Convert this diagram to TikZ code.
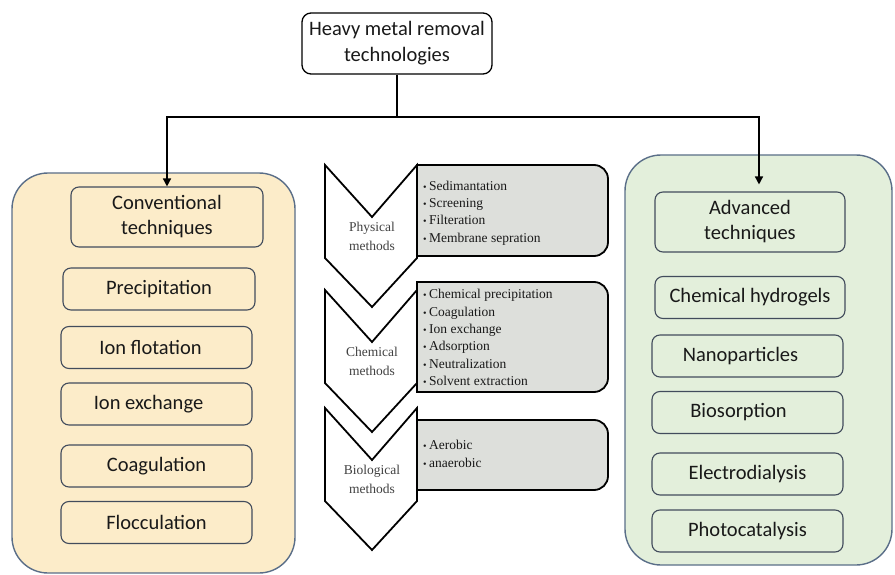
\documentclass[tikz,border=0pt]{standalone}
\usepackage{fontspec}
\setmainfont{Carlito}
\newfontfamily\timesfont{Liberation Serif}
\usepackage{xcolor}
\definecolor{ConvFill}{RGB}{252,236,201}
\definecolor{AdvFill}{RGB}{227,239,219}
\definecolor{PanelBorder}{RGB}{90,110,136}
\definecolor{BoxBorder}{RGB}{66,76,92}
\definecolor{ListFill}{RGB}{221,223,219}
\definecolor{TechText}{RGB}{25,25,25}
\definecolor{MethodText}{RGB}{65,65,65}
\usetikzlibrary{
  positioning,
  arrows.meta,
  calc
}
\newcommand{\bul}{\makebox[6pt][l]{\fontsize{10}{10}\selectfont\textbullet}}
\tikzset{
  % Root box
  rootbox/.style={
    draw=black,
    line width=1.3pt,
    fill=white,
    rounded corners=9pt,
    minimum width=190,
    minimum height=61,
    align=center,
    text=TechText,
    font=\fontsize{20.5}{26}\selectfont
  },
  % Large panels
  panel/.style={
    draw=PanelBorder,
    line width=1.4pt,
    rounded corners=36pt,
    inner sep=0pt
  },
  % Technique box
  techbox/.style={
    draw=BoxBorder,
    line width=1.1pt,
    rounded corners=8pt,
    minimum width=191,
    minimum height=42,
    align=center,
    text=TechText,
    font=\fontsize{20.5}{25}\selectfont
  },
  % Heading box inside a panel
  headbox/.style={techbox, minimum height=60},
  convbox/.style={techbox, fill=ConvFill},
  advbox/.style={techbox, fill=AdvFill},
  % Method chevron
  chevron/.style={
    draw=black,
    line width=1.8pt,
    fill=white
  },
  % Method list box
  listbox/.style={
    draw=black,
    line width=1.8pt,
    fill=ListFill
  },
  methodlabel/.style={
    align=center,
    text=MethodText,
    font=\timesfont\fontsize{13.5}{19}\selectfont
  },
  listtext/.style={
    align=left,
    inner sep=0pt,
    text=TechText,
    font=\timesfont\fontsize{13.5}{17.4}\selectfont
  },
  % Connectors
  connector/.style={
    draw=black,
    line width=1.5pt
  },
  arrowline/.style={
    connector,
    -{Triangle[length=8pt,width=8pt]}
  }
}

\begin{document}
\begin{tikzpicture}[x=1pt, y=-1pt]
  \useasboundingbox (0,0) rectangle (895,575);

  % panels
  \node[panel, fill=ConvFill, minimum width=283, minimum height=400] (convpanel) at (153.5,373) {};
  \node[panel, fill=AdvFill, minimum width=267, minimum height=410] (advpanel) at (758.5,360) {};

  % root and split
  \node[rootbox] (root) at (397,43.5) {Heavy metal removal\\technologies};
  \coordinate (split) at (397,117);

  % conventional techniques
  \node[convbox, headbox, minimum width=192] (conv) at (167,217) {Conventional\\techniques};
  \node[convbox, minimum width=192] (precip) at (159,289) {Precipitation};
  \node[convbox] (flot) at (156.5,347.5) {\hspace*{-12pt}Ion flotation};
  \node[convbox] (ionex) at (156.5,404) {\hspace*{-16pt}Ion exchange};
  \node[convbox] (coag) at (156.5,466) {Coagulation};
  \node[convbox] (floc) at (156.5,522.5) {Flocculation};

  % advanced techniques
  \node[advbox, headbox, minimum width=190] (adv) at (750,222) {Advanced\\techniques};
  \node[advbox, minimum width=190] (hydro) at (750,297.5) {Chemical hydrogels};
  \node[advbox] (nano) at (747.5,356) {\hspace*{-14pt}Nanoparticles};
  \node[advbox] (bios) at (747.5,412.5) {\hspace*{-18pt}Biosorption};
  \node[advbox] (electro) at (747.5,474) {Electrodialysis};
  \node[advbox] (photo) at (747.5,531) {Photocatalysis};

  \draw[connector] (root) -- (split);
  \draw[arrowline] (split) -| (conv.north);
  \draw[arrowline] (split) -| ([xshift=9pt,yshift=7pt]adv.north);

  % method lists
  \foreach \t/\b in {165/256, 282/392, 420/490} {
    \draw[listbox] (500,\b) -- (417,\b) -- (417,\t) -- (500,\t) [rounded corners=14pt] -- (608,\t) -- (608,\b) -- cycle;
  }
  \node[listtext, anchor=west] (physlist) at (423,213)
    {\bul Sedimantation\\ \bul Screening\\ \bul Filteration\\ \bul Membrane sepration};
  \node[listtext, anchor=west] (chemlist) at (423,337.5)
    {\bul Chemical precipitation\\ \bul Coagulation\\ \bul Ion exchange\\ \bul Adsorption\\ \bul Neutralization\\ \bul Solvent extraction};
  \node[listtext, anchor=west] (biolist) at (423,454)
    {\bul Aerobic\\ \bul anaerobic};

  % method chevrons
  \foreach \t/\name/\lbl in {165/phys/{Physical\\methods}, 290/chem/{Chemical\\methods}, 408/bio/{Biological\\methods}} {
    \draw[chevron] (325,\t) -- (372,\t+52) -- (417,\t) -- (417,\t+93) -- (372,\t+142) -- (325,\t+93) -- cycle;
    \node[methodlabel] (\name) at (372,\t+71) {\lbl};
  }
\end{tikzpicture}
\end{document}
